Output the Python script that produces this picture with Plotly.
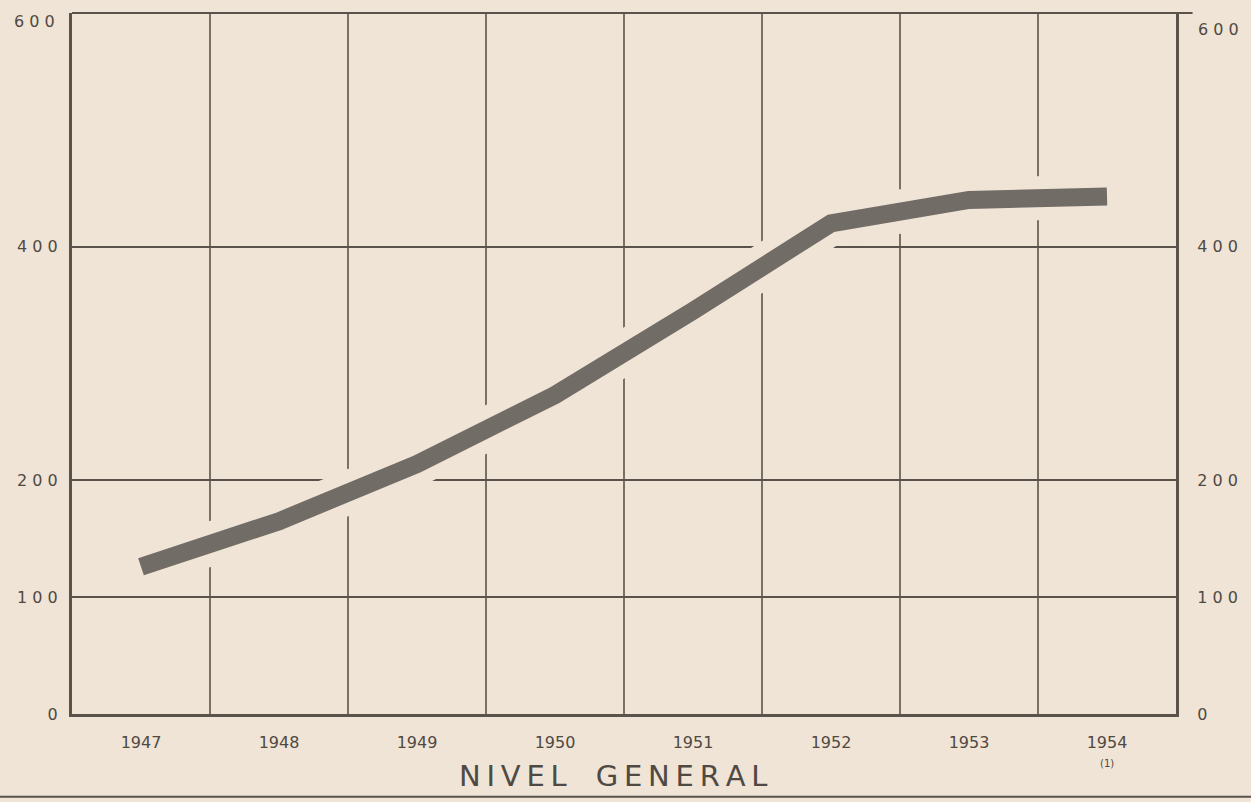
import plotly.graph_objects as go

years = ["1947", "1948", "1949", "1950", "1951", "1952", "1953", "1954"]
nivel_general = [126, 165, 214, 273, 345, 420, 440, 443]
y_ticks = [0, 100, 200, 400, 600]
y_tick_labels = ["0", "100", "200", "400", "600"]
title_text = "NIVEL GENERAL"
note_text = "(1)"

BG = "#efe4d6"
INK = "#5a534b"
TXT = "#4f4943"
LINE = "#726c67"

def spaced(s, sep="\u2009"):
    return sep.join(list(s))

# the top tick (600) is written separately so it can sit just under the frame
axis_vals = y_ticks[:-1]
axis_text = [spaced(t, " ") for t in y_tick_labels[:-1]]

fig = go.Figure()
# halo that interrupts the grid around the curve
fig.add_trace(go.Scatter(x=years, y=nivel_general, mode="lines",
                         line=dict(color=BG, width=44), hoverinfo="skip",
                         showlegend=False))
fig.add_trace(go.Scatter(x=years, y=nivel_general, mode="lines",
                         line=dict(color=LINE, width=18), showlegend=False,
                         name="Nivel general"))
# invisible trace for the right-hand axis
fig.add_trace(go.Scatter(x=years, y=nivel_general, yaxis="y2", mode="lines",
                         line=dict(width=0), opacity=0, hoverinfo="skip",
                         showlegend=False))

fig.update_layout(
    width=1251, height=802,
    margin=dict(l=72, r=75, t=13, b=88, autoexpand=False),
    paper_bgcolor=BG, plot_bgcolor=BG,
    font=dict(family="DejaVu Sans", color=TXT, size=15),
    xaxis=dict(
        type="category", range=[-0.5, 7.5],
        showgrid=False,
        showline=True, linecolor=INK, linewidth=3, mirror=False,
        ticks="", ticklabelstandoff=12,
        tickfont=dict(size=16, color=TXT),
    ),
    yaxis=dict(
        range=[0, 600], tickmode="array", tickvals=axis_vals,
        ticktext=axis_text,
        showgrid=True, gridcolor=INK, gridwidth=1.6,
        zeroline=False,
        showline=True, linecolor=INK, linewidth=3,
        ticks="", ticklabelstandoff=8, ticklabeloverflow="allow",
        tickfont=dict(size=16, color=TXT),
    ),
    yaxis2=dict(
        range=[0, 600], overlaying="y", side="right",
        tickmode="array", tickvals=axis_vals,
        ticktext=axis_text,
        showgrid=False, zeroline=False,
        showline=True, linecolor=INK, linewidth=3,
        ticks="", ticklabelstandoff=15, ticklabeloverflow="allow",
        tickfont=dict(size=16, color=TXT),
    ),
)

# vertical separators between years
for i in range(len(years) - 1):
    fig.add_shape(type="line", xref="x", yref="paper",
                  x0=i + 0.5, x1=i + 0.5, y0=0, y1=1,
                  line=dict(color=INK, width=1.6), layer="below")

# top border, extending slightly past right axis
fig.add_shape(type="line", xref="paper", yref="paper",
              x0=0, x1=1.015, y0=1, y1=1,
              line=dict(color=INK, width=2))
# bottom rule of the page
fig.add_shape(type="line", xref="paper", yref="paper",
              x0=-0.07, x1=1.07, y0=-0.118, y1=-0.118,
              line=dict(color=INK, width=2))

# 600 labels on both sides
fig.add_annotation(text=spaced(y_tick_labels[-1], " "), xref="paper", yref="y",
                   x=0, y=y_ticks[-1], xanchor="right", yanchor="middle",
                   xshift=-15, yshift=-8, showarrow=False,
                   font=dict(size=16, color=TXT))
fig.add_annotation(text=spaced(y_tick_labels[-1], " "), xref="paper", yref="y",
                   x=1, y=y_ticks[-1], xanchor="left", yanchor="middle",
                   xshift=20, yshift=-16, showarrow=False,
                   font=dict(size=16, color=TXT))

fig.add_annotation(text=spaced("NIVEL", "\u2009") + "\u2003" + spaced("GENERAL", "\u2009"),
                   xref="paper", yref="paper", x=0.49, y=-0.088,
                   showarrow=False, font=dict(size=29, color=TXT),
                   xanchor="center", yanchor="middle")
fig.add_annotation(text=note_text, xref="x", yref="paper", x=len(years) - 1, y=-0.07,
                   showarrow=False, font=dict(size=10, color=TXT),
                   xanchor="center", yanchor="middle")

fig.write_html(
    "out.html",
    config={"displayModeBar": False},
    post_script=("document.body.style.margin='0';"
                 "document.body.style.overflow='hidden';"
                 "document.body.style.background='%s';" % BG),
)
